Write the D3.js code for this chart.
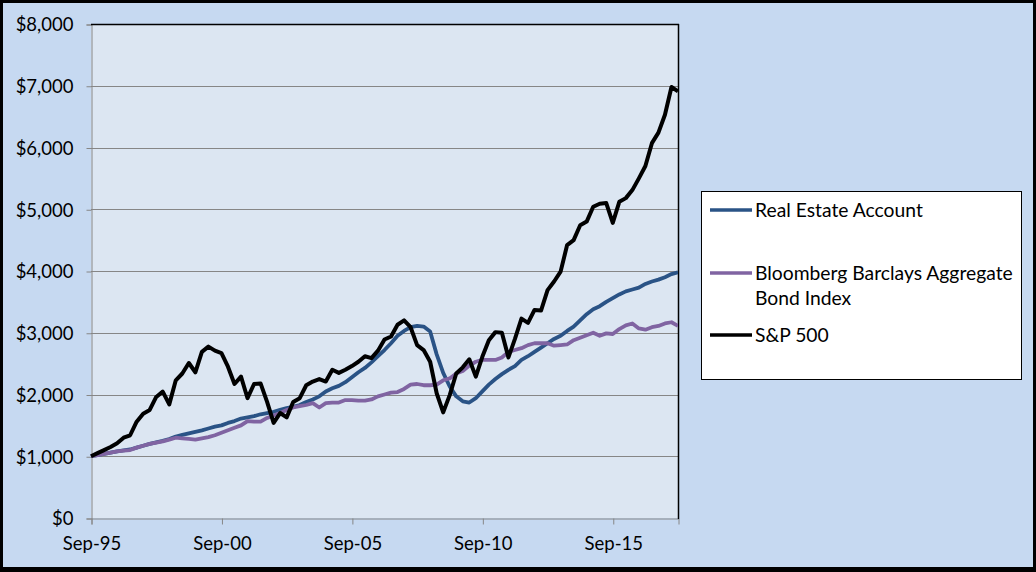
<!DOCTYPE html>
<html>
<head>
<meta charset="utf-8">
<script src="https://cdn.jsdelivr.net/npm/d3@7"></script>
<style>
html,body{margin:0;padding:0;background:#c6d9f1;}
svg{display:block;}
text{font-family:Lato,"Open Sans",sans-serif;fill:#000;}
</style>
</head>
<body>
<svg id="chart" width="1036" height="572"></svg>
<script>
// Quarterly observations, Sep-95 .. Mar-18 (91 points)
const tickLabels = ["Sep-95","Sep-00","Sep-05","Sep-10","Sep-15"];
const yTicks = [0,1000,2000,3000,4000,5000,6000,7000,8000];
const seriesNames = ["Real Estate Account","Bloomberg Barclays Aggregate Bond Index","S&P 500"];

const realEstate = [1000,1020,1040,1060,1080,1095,1110,1140,1170,1200,1225,1250,1280,1320,1345,1370,1395,1420,1450,1480,
  1500,1540,1570,1610,1630,1650,1680,1700,1720,1750,1780,1800,1830,1880,1920,1970,2050,2100,2140,2200,
  2280,2360,2430,2520,2620,2720,2830,2950,3030,3090,3110,3100,3020,2650,2350,2130,1970,1890,1870,1940,
  2050,2160,2250,2330,2400,2460,2560,2620,2690,2760,2830,2900,2950,3030,3100,3200,3300,3380,3430,3500,
  3560,3620,3670,3700,3730,3790,3830,3860,3900,3950,3980];
const bondIndex = [1000,1020,1040,1060,1080,1090,1100,1140,1170,1200,1220,1240,1270,1300,1290,1280,1270,1290,1310,1340,
  1380,1420,1460,1500,1570,1560,1560,1620,1660,1700,1750,1790,1810,1830,1860,1790,1860,1870,1870,1910,
  1910,1900,1900,1920,1970,2000,2030,2040,2090,2160,2170,2150,2150,2160,2230,2260,2340,2380,2470,2530,
  2560,2560,2560,2600,2690,2720,2750,2800,2830,2830,2830,2790,2800,2810,2880,2920,2960,3000,2950,2990,
  2980,3060,3120,3150,3070,3050,3090,3110,3150,3170,3110];
const sp500 = [1000,1050,1100,1150,1210,1300,1340,1560,1690,1750,1960,2046,1840,2230,2340,2510,2360,2690,2775,2710,
  2670,2450,2170,2290,1940,2170,2180,1880,1540,1700,1630,1880,1940,2150,2210,2250,2210,2400,2350,2400,
  2460,2530,2620,2590,2710,2890,2940,3130,3200,3090,2800,2720,2530,2020,1710,1990,2340,2440,2570,2290,
  2610,2880,3010,3000,2600,2900,3230,3160,3370,3360,3690,3830,3990,4420,4500,4740,4800,5040,5090,5100,
  4780,5120,5180,5310,5500,5700,6070,6240,6530,6980,6910];

const colors = ["#2a5386","#8064a2","#000000"];
const series = [realEstate, bondIndex, sp500];

const svg = d3.select("#chart");
const W = 1036, H = 572;
const plot = {left:91, right:678, top:24, bottom:518};

svg.append("rect").attr("x",0).attr("y",0).attr("width",W).attr("height",H).attr("fill","#c6d9f1");

const n = sp500.length;
const x = d3.scaleLinear().domain([0, n-1]).range([plot.left, plot.right]);
const y = d3.scaleLinear().domain([0, 8000]).range([plot.bottom, plot.top]);

svg.append("rect").attr("x",plot.left).attr("y",plot.top)
  .attr("width",plot.right-plot.left).attr("height",plot.bottom-plot.top).attr("fill","#dce6f2");

// gridlines
svg.append("g").selectAll("line").data(yTicks.filter(d=>d>0 && d<8000)).join("line")
  .attr("x1",plot.left).attr("x2",plot.right)
  .attr("y1",d=>Math.round(y(d))+0.5).attr("y2",d=>Math.round(y(d))+0.5)
  .attr("stroke","#868686").attr("stroke-width",1);

// y axis
const yAxis = d3.axisLeft(y).tickValues(yTicks).tickSize(5).tickPadding(13)
  .tickFormat(d=>"$"+d3.format(",")(d));
const gy = svg.append("g").attr("transform",`translate(${plot.left+0.5},0.5)`).call(yAxis);
gy.select(".domain").attr("stroke","#868686");
gy.selectAll(".tick line").attr("stroke","#868686");
gy.selectAll(".tick text").attr("font-size",18.5).attr("font-family","Lato, 'Open Sans', sans-serif").attr("fill","#000").attr("dy","0.35em");

// x axis
const tickIdx = tickLabels.map((d,i)=>i*20);
const xAxis = d3.axisBottom(x).tickValues(tickIdx).tickSize(6).tickPadding(12)
  .tickFormat((d,i)=>tickLabels[i]);
const gx = svg.append("g").attr("transform",`translate(0.5,${plot.bottom+0.5})`).call(xAxis);
gx.select(".domain").attr("stroke","#868686");
gx.selectAll(".tick line").attr("stroke","#868686");
gx.selectAll(".tick text").attr("font-size",18.5).attr("font-family","Lato, 'Open Sans', sans-serif").attr("fill","#000");

// plot border top & right
svg.append("line").attr("x1",plot.left).attr("x2",plot.right+1).attr("y1",plot.top+0.5).attr("y2",plot.top+0.5).attr("stroke","#000").attr("stroke-width",1.5);
svg.append("line").attr("x1",plot.right+0.5).attr("x2",plot.right+0.5).attr("y1",plot.top).attr("y2",plot.bottom+1).attr("stroke","#000").attr("stroke-width",1.5);

// lines
const line = d3.line().x((d,i)=>x(i)).y(d=>y(d));
svg.append("clipPath").attr("id","pc").append("rect")
  .attr("x",plot.left-3).attr("y",plot.top-3).attr("width",plot.right-plot.left+3).attr("height",plot.bottom-plot.top+6);
series.forEach((s,k)=>{
  svg.append("path").datum(s).attr("d",line).attr("fill","none")
    .attr("stroke",colors[k]).attr("stroke-width",k===2?4:3.8)
    .attr("stroke-linejoin","round").attr("clip-path","url(#pc)");
});

// legend
const lg = svg.append("g");
lg.append("rect").attr("x",701.5).attr("y",191.5).attr("width",320).attr("height",188)
  .attr("fill","#fff").attr("stroke","#000").attr("stroke-width",1);
const legendItems = [
  {name:["Real Estate Account"], y:210},
  {name:["Bloomberg Barclays Aggregate","Bond Index"], y:273},
  {name:["S&P 500"], y:335}
];
legendItems.forEach((it,k)=>{
  lg.append("line").attr("x1",710).attr("x2",752).attr("y1",it.y).attr("y2",it.y)
    .attr("stroke",colors[k]).attr("stroke-width",3.5);
  const t = lg.append("text").attr("x",755).attr("y",it.y+7).attr("font-size",19.3);
  it.name.forEach((ln,j)=>{
    t.append("tspan").attr("x",755).attr("dy",j===0?0:25).text(ln);
  });
});

// outer black frame
svg.append("rect").attr("x",1.5).attr("y",1.5).attr("width",W-3).attr("height",H-4)
  .attr("fill","none").attr("stroke","#000").attr("stroke-width",3);
svg.append("rect").attr("x",0).attr("y",H-5).attr("width",W).attr("height",5).attr("fill","#000");
</script>
</body>
</html>
